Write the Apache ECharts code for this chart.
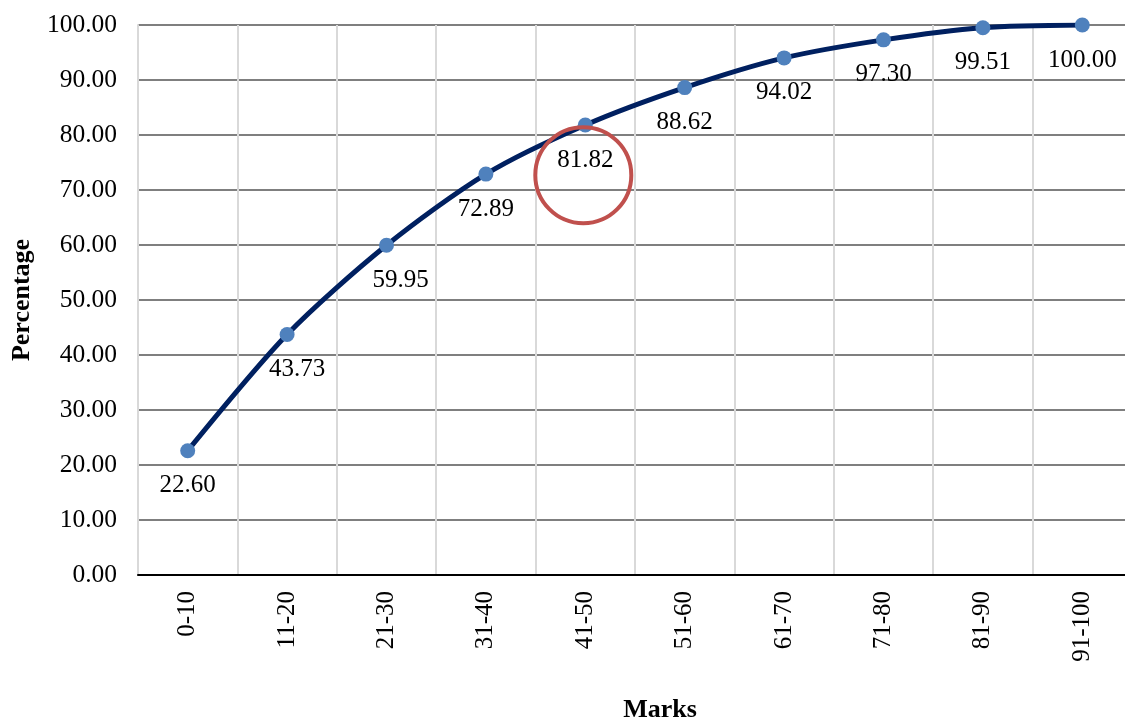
<!DOCTYPE html>
<html>
<head>
<meta charset="utf-8">
<script src="https://cdn.jsdelivr.net/npm/echarts@6/dist/echarts.min.js"></script>
<style>
html,body{margin:0;padding:0;background:#fff;}
#chart{width:1125px;height:722px;}
</style>
</head>
<body>
<div id="chart"></div>
<script>
var categories = ['0-10','11-20','21-30','31-40','41-50','51-60','61-70','71-80','81-90','91-100'];
var percentages = [22.60, 43.73, 59.95, 72.89, 81.82, 88.62, 94.02, 97.30, 99.51, 100.00];
var yTicks = [0, 100, 10];

var font = 'Liberation Serif, Times New Roman, serif';

var myChart = echarts.init(document.getElementById('chart'));

var seriesData = percentages.map(function(v, i){
	var item = {value: v};
	// a couple of labels sit a bit to the right of their points
	if(i == 1){ item.label = {offset: [10, 0]}; }
	if(i == 2){ item.label = {offset: [14, 0]}; }
	return item;
});

var option = {
	animation: false,
	grid: {
		left: 138,
		top: 25,
		bottom: 147,
		right: -7,
		outerBoundsMode: 'none'
	},
	xAxis: {
		type: 'category',
		data: categories,
		boundaryGap: true,
		name: 'Marks',
		nameLocation: 'middle',
		nameGap: 122,
		nameTextStyle: {
			fontFamily: font,
			fontSize: 26,
			fontWeight: 'bold',
			color: '#000',
			padding: [0, 0, 0, 50]
		},
		axisLine: {show: true, lineStyle: {color: '#000', width: 2}},
		axisTick: {show: false},
		axisLabel: {
			rotate: 90,
			margin: 16,
			fontFamily: font,
			fontSize: 25,
			color: '#000'
		},
		splitLine: {show: true, interval: 0, lineStyle: {color: '#d9d9d9', width: 2}}
	},
	yAxis: {
		type: 'value',
		min: yTicks[0],
		max: yTicks[1],
		interval: yTicks[2],
		name: 'Percentage',
		nameLocation: 'middle',
		nameGap: 103,
		nameRotate: 90,
		nameTextStyle: {
			fontFamily: font,
			fontSize: 26,
			fontWeight: 'bold',
			color: '#000'
		},
		axisLine: {show: true, lineStyle: {color: '#d9d9d9', width: 2}},
		axisTick: {show: false},
		axisLabel: {
			margin: 21,
			fontFamily: font,
			fontSize: 25.5,
			color: '#000',
			formatter: function(v){ return v.toFixed(2); }
		},
		splitLine: {show: true, lineStyle: {color: '#7f7f7f', width: 2}}
	},
	series: [{
		type: 'line',
		data: seriesData,
		smooth: 0.28,
		symbol: 'circle',
		symbolSize: 15,
		lineStyle: {color: '#002060', width: 5},
		itemStyle: {color: '#4f81bd'},
		label: {
			show: true,
			position: 'bottom',
			distance: 15,
			fontFamily: font,
			fontSize: 25,
			color: '#000',
			formatter: function(p){ return p.value.toFixed(2); }
		},
		z: 3
	}]
};

myChart.setOption(option);

// red ring highlighting the 41-50 point
var c = myChart.convertToPixel({gridIndex: 0}, ['41-50', 72.7]);
myChart.setOption({
	graphic: [{
		type: 'circle',
		shape: {cx: c[0] - 2, cy: c[1], r: 48},
		style: {fill: 'none', stroke: '#c0504d', lineWidth: 4},
		z: 10
	}]
});
</script>
</body>
</html>
